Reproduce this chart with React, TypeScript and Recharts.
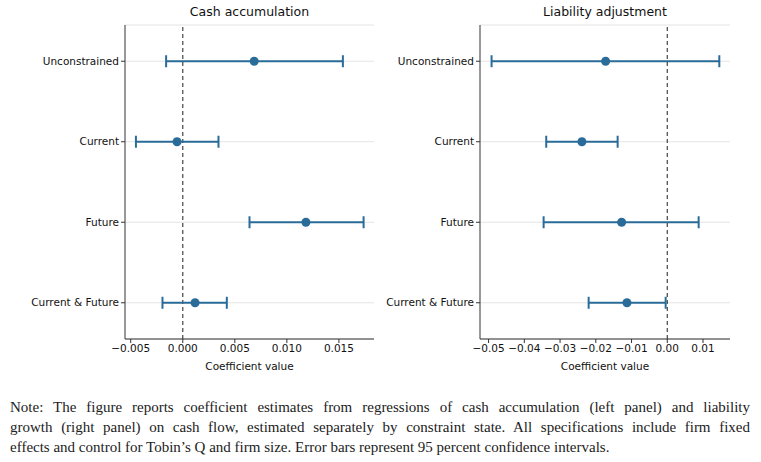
import React from "react";
import { ScatterChart, Scatter, XAxis, YAxis, CartesianGrid, ReferenceLine, ErrorBar } from "recharts";

const CATEGORIES = ["Unconstrained", "Current", "Future", "Current & Future"];

// Cash accumulation (left panel)
const CASH_COEF = [0.00686, -0.00055, 0.01183, 0.00118];
const CASH_LO = [-0.0016, -0.0045, 0.00641, -0.00195];
const CASH_HI = [0.01538, 0.00343, 0.01737, 0.00423];
const CASH_TICKS = [-0.005, 0, 0.005, 0.01, 0.015];

// Liability adjustment (right panel)
const LIAB_COEF = [-0.01725, -0.02388, -0.01277, -0.01128];
const LIAB_LO = [-0.04916, -0.03387, -0.0346, -0.022];
const LIAB_HI = [0.01456, -0.01389, 0.00878, -0.00045];
const LIAB_TICKS = [-0.05, -0.04, -0.03, -0.02, -0.01, 0, 0.01];

const COLOR = "#2a6c99";
const FONT = "'DejaVu Sans', sans-serif";

const buildRows = (coef: number[], lo: number[], hi: number[]) =>
  CATEGORIES.map((name, i) => ({
    name,
    idx: i,
    coef: coef[i],
    err: [coef[i] - lo[i], hi[i] - coef[i]],
  }));

const fmt = (digits: number) => (v: number) => {
  const s = Math.abs(v).toFixed(digits);
  return v < -1e-12 ? "\u2212" + s : s;
};

const Dot = (props: any) => <circle cx={props.cx} cy={props.cy} r={4.5} fill={COLOR} />;

// plain single-line tick so long category names don't wrap
const CatTick = (props: any) => (
  <text x={props.x} y={props.y} dy="0.35em" textAnchor="end" fill="#111" fontSize={10.5} fontFamily={FONT}>
    {CATEGORIES[props.payload.value]}
  </text>
);

function Panel({
  title, rows, domain, ticks, digits, width, yWidth, right,
}: {
  title: string; rows: any[]; domain: number[]; ticks: number[]; digits: number;
  width: number; yWidth: number; right: number;
}) {
  const plotLeft = yWidth;
  const plotRight = width - right;
  return (
    <div style={{ position: "relative", width, height: 380 }}>
      <div
        style={{
          position: "absolute", top: 4, left: plotLeft, width: plotRight - plotLeft,
          textAlign: "center", fontFamily: FONT, fontSize: 12.5, color: "#111",
        }}
      >
        {title}
      </div>
      <ScatterChart width={width} height={380} margin={{ top: 25, right, bottom: 0, left: 0 }}>
        <CartesianGrid vertical={false} stroke="#e4e4e4" strokeWidth={1} />
        <XAxis
          type="number" dataKey="coef" domain={domain} ticks={ticks} allowDataOverflow
          tickFormatter={fmt(digits)} height={41} tickSize={4}
          axisLine={{ stroke: "#333" }} tickLine={{ stroke: "#333" }}
          tick={{ fill: "#111", fontSize: 10.5, fontFamily: FONT }}
          label={{ value: "Coefficient value", position: "insideBottom", offset: 10, fill: "#111", fontSize: 10.5, fontFamily: FONT }}
        />
        <YAxis
          type="number" dataKey="idx" domain={[-0.45, 3.45]} reversed ticks={[0, 1, 2, 3]}
          width={yWidth} tickSize={4} allowDataOverflow
          axisLine={{ stroke: "#333" }} tickLine={{ stroke: "#333" }}
          tick={<CatTick />}
        />
        <ReferenceLine x={0} stroke="#444" strokeDasharray="4 3" strokeWidth={1.2} />
        <Scatter data={rows} fill={COLOR} shape={Dot} isAnimationActive={false}>
          <ErrorBar dataKey="err" direction="x" width={6} stroke={COLOR} strokeWidth={2} />
        </Scatter>
      </ScatterChart>
    </div>
  );
}

export default function App() {
  const lineStyle: React.CSSProperties = { textAlign: "justify", textAlignLast: "justify", whiteSpace: "nowrap" };
  return (
    <div style={{ position: "absolute", left: 0, top: 0, width: 761, height: 462, background: "#fff" }}>
      <div style={{ position: "absolute", left: 0, top: 0 }}>
        <Panel title="Cash accumulation" rows={buildRows(CASH_COEF, CASH_LO, CASH_HI)}
          domain={[-0.00555, 0.01837]} ticks={CASH_TICKS} digits={3} width={380} yWidth={125} right={6} />
      </div>
      <div style={{ position: "absolute", left: 380, top: 0 }}>
        <Panel title="Liability adjustment" rows={buildRows(LIAB_COEF, LIAB_LO, LIAB_HI)}
          domain={[-0.0524, 0.01755]} ticks={LIAB_TICKS} digits={2} width={360} yWidth={100} right={10} />
      </div>
      <div
        style={{
          position: "absolute", left: 10, top: 397, width: 740,
          fontFamily: "'Liberation Serif', 'DejaVu Serif', serif", fontSize: 15, lineHeight: "20px", color: "#222",
        }}
      >
        <div style={lineStyle}>Note: The figure reports coefficient estimates from regressions of cash accumulation (left panel) and liability</div>
        <div style={lineStyle}>growth (right panel) on cash flow, estimated separately by constraint state. All specifications include firm fixed</div>
        <div>effects and control for Tobin’s Q and firm size. Error bars represent 95 percent confidence intervals.</div>
      </div>
    </div>
  );
}
